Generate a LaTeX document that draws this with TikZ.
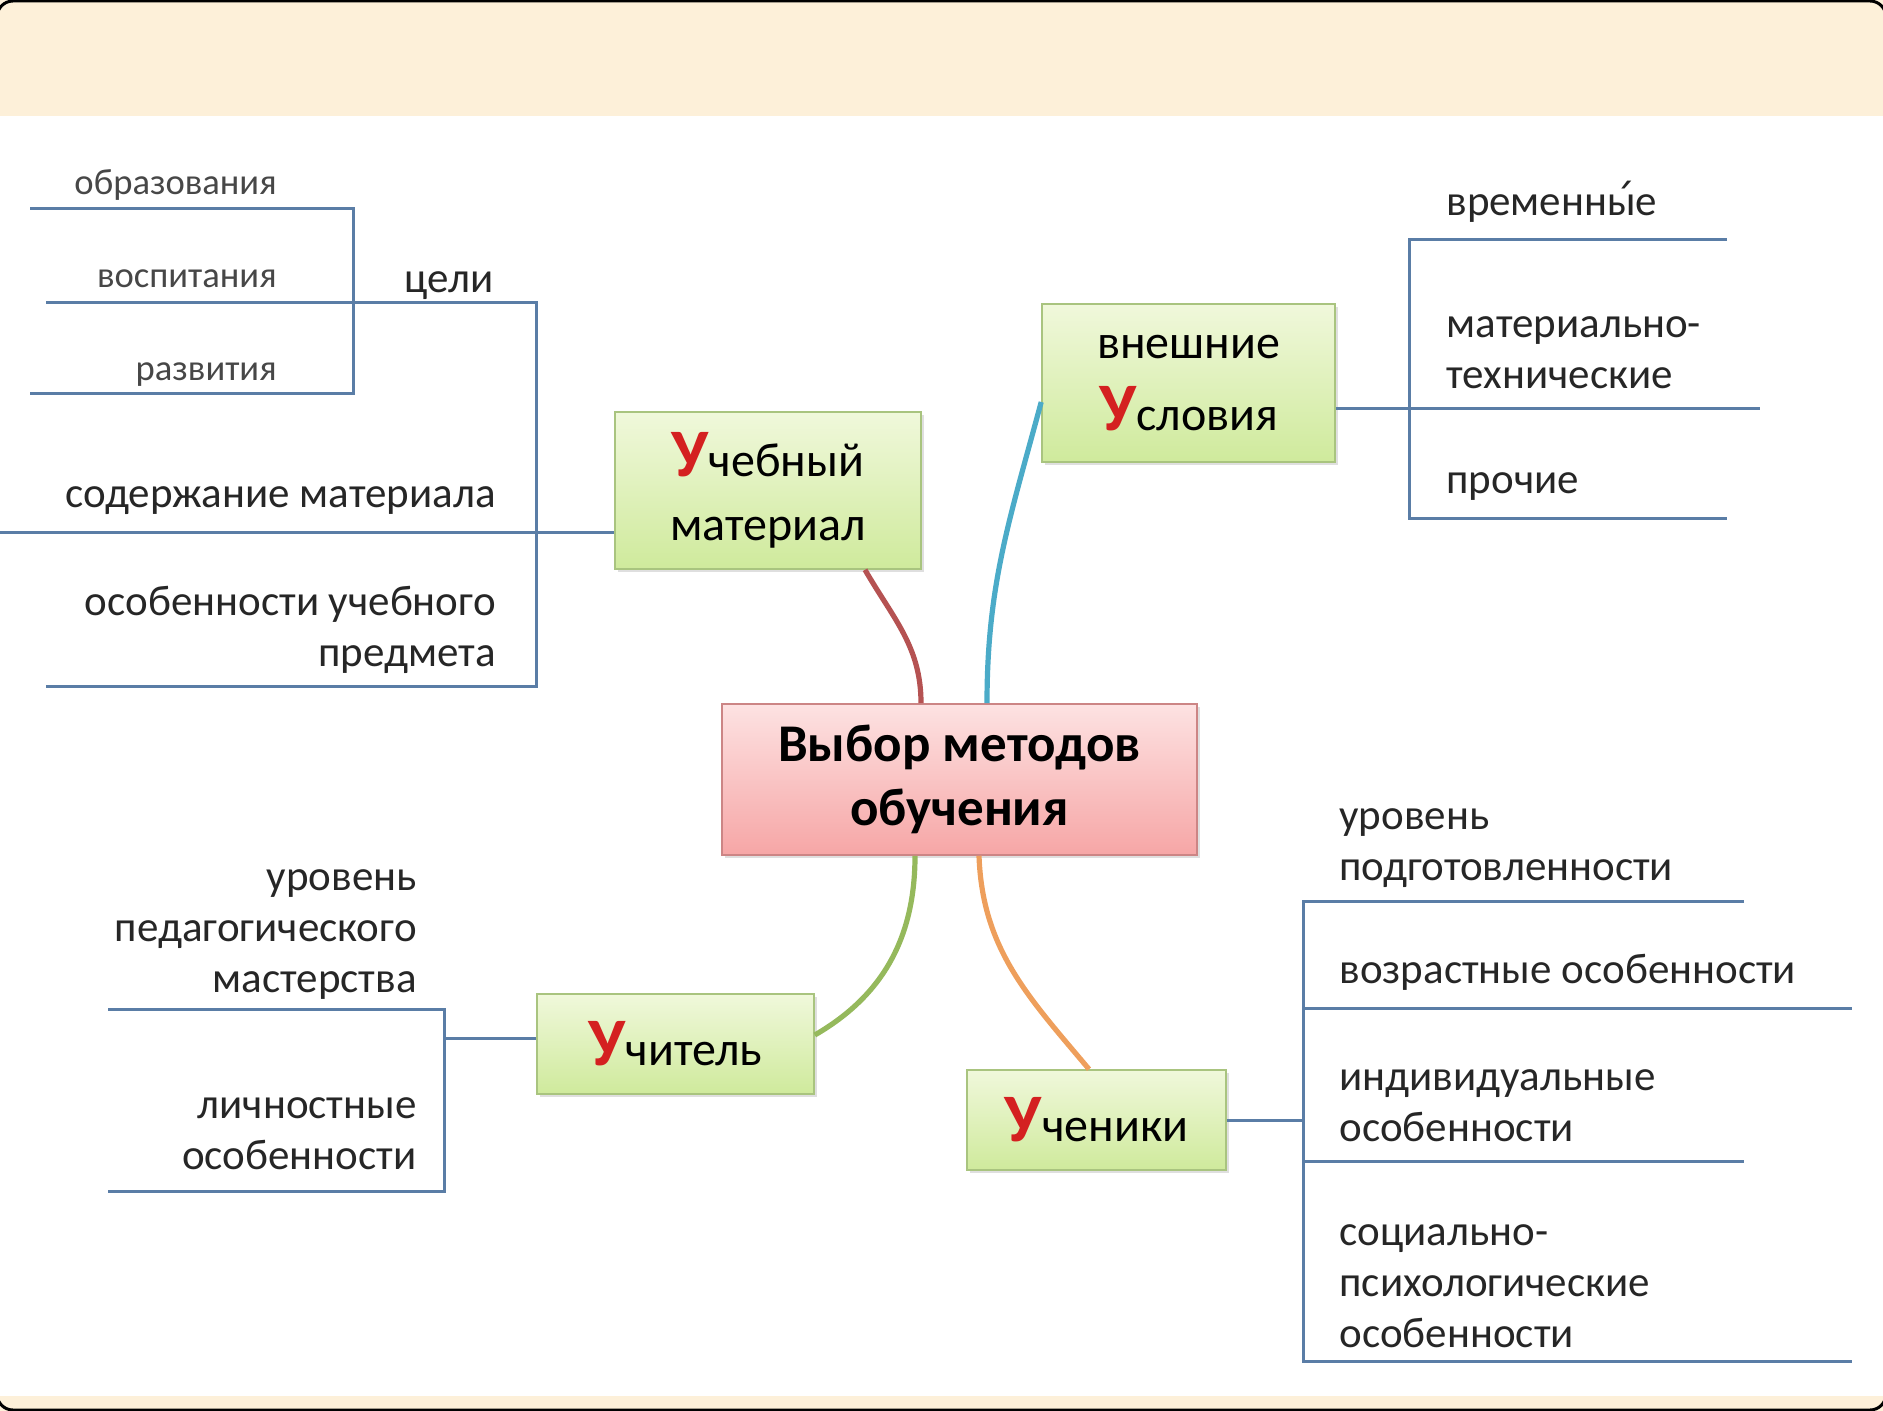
\documentclass[tikz,border=0pt]{standalone}
\usepackage{fontspec}
\setmainfont{Carlito}
\newfontfamily\accentfont{DejaVu Sans}
\usetikzlibrary{shadows}

\definecolor{paper}{HTML}{FDF0D9}
\definecolor{branchblue}{HTML}{5A7DA6}
\definecolor{greentop}{HTML}{F0F8DB}
\definecolor{greenbot}{HTML}{CFEA9C}
\definecolor{greenline}{HTML}{A9C47F}
\definecolor{pinktop}{HTML}{FDE2E2}
\definecolor{pinkbot}{HTML}{F6A6A6}
\definecolor{pinkline}{HTML}{CC8585}
\definecolor{ured}{HTML}{D42020}
\definecolor{linkred}{HTML}{B55252}
\definecolor{linkblue}{HTML}{4BABC8}
\definecolor{linkgreen}{HTML}{95B95C}
\definecolor{linkorange}{HTML}{EE9F5C}

\newcommand{\redU}{{\fontsize{34}{34}\selectfont\bfseries\color{ured}У}}

\begin{document}
\begin{tikzpicture}[
    x=0.5pt, y=-0.5pt,
    topicbox/.style={rectangle, draw=greenline, line width=0.8pt, top color=greentop, bottom color=greenbot, align=center, font=\fontsize{24}{32}\selectfont, drop shadow={opacity=0.25, shadow xshift=1.5pt, shadow yshift=-1.5pt}},
    rootbox/.style={rectangle, draw=pinkline, line width=0.8pt, top color=pinktop, bottom color=pinkbot, align=center, font=\fontsize{26.5}{32}\selectfont\bfseries, drop shadow={opacity=0.25, shadow xshift=1.5pt, shadow yshift=-1.5pt}},
    leaftext/.style={inner sep=0pt, font=\fontsize{21.5}{25.5}\selectfont, text=black!85},
    subtext/.style={inner sep=0pt, font=\fontsize{18.3}{22}\selectfont, text=black!72},
    branchline/.style={draw=branchblue, line width=1.5pt},
    linkline/.style={line width=2.6pt}
]
    \useasboundingbox (0,0) rectangle (1883,1411);

    % Frame
    \fill[paper] (0,0) rectangle (1883,116);
    \fill[paper] (0,1396) rectangle (1883,1411);
    \draw[line width=1.5pt, rounded corners=8pt] (-3,1) rectangle (1886,1410);

    % Root
    \node[rootbox, minimum width=237.5pt, minimum height=75.5pt] (methods) at (959.5,779.5) {Выбор методов\\обучения};

    % Topics
    \node[topicbox, minimum width=153pt, minimum height=78.5pt] (material) at (768,490.5) {\redU чебный\\материал};
    \node[topicbox, minimum width=146.5pt, minimum height=79pt] (conditions) at (1188.5,383) {внешние\\[4pt]\redU словия};
    \node[topicbox, minimum width=138.5pt, minimum height=50pt] (teacher) at (675.5,1044) {\redU читель};
    \node[topicbox, minimum width=129.5pt, minimum height=50pt] (pupils) at (1096.5,1120) {\redU ченики};

    % Curves
    \draw[linkline, linkred] ([xshift=48.5pt]material.south) to[out=-60, in=90] ([xshift=-19.25pt]methods.north);
    \draw[linkline, linkblue] ([yshift=-9.5pt]conditions.west) to[out=-105, in=90] ([xshift=13.75pt]methods.north);
    \draw[linkline, linkgreen] ([xshift=-22.25pt]methods.south) to[out=-90, in=30] ([yshift=4.5pt]teacher.east);
    \draw[linkline, linkorange] ([xshift=9.75pt]methods.south) to[out=-88, in=130] ([xshift=-3.75pt]pupils.north);

    % Material
    \node[subtext, anchor=base east] (obr) at (277,195) {образования};
    \node[subtext, anchor=base east] (vosp) at (277,288) {воспитания};
    \node[subtext, anchor=base east] (razv) at (277,381) {развития};
    \node[leaftext, anchor=base east] (goals) at (494,293) {цели};
    \node[leaftext, anchor=base east] (content) at (496,508) {содержание материала};
    \node[leaftext, anchor=base east, align=right] (subject) at (496,666) {особенности учебного\\предмета};

    \coordinate (obrL) at (30,209);
    \coordinate (obrR) at (353,209);
    \coordinate (razvL) at (30,394);
    \coordinate (razvR) at (353,394);
    \coordinate (vospL) at (46,303);
    \coordinate (goalsR) at (536,303);
    \coordinate (subjectL) at (46,686);
    \coordinate (subjectR) at (536,686);
    \coordinate (contentL) at (0,532);
    \draw[branchline] (obrL) -- (obrR) -- (razvR) -- (razvL);
    \draw[branchline] (vospL) -- (goalsR) -- (subjectR) -- (subjectL);
    \draw[branchline] (contentL) -- (contentL -| material.west);

    % Conditions
    \node[leaftext, anchor=base west] (time) at (1446,216) {временны{\accentfont\char"0301}е};
    \node[leaftext, anchor=base west, align=left] (mattech) at (1446,389) {материально-\\технические};
    \node[leaftext, anchor=base west] (other) at (1446,494) {прочие};

    \coordinate (timeL) at (1409,240);
    \coordinate (timeR) at (1727,240);
    \coordinate (otherL) at (1409,518);
    \coordinate (otherR) at (1727,518);
    \coordinate (mattechR) at (1760,409);
    \draw[branchline] (timeR) -- (timeL) -- (otherL) -- (otherR);
    \draw[branchline] (conditions.east |- mattechR) -- (mattechR);

    % Pupils
    \node[leaftext, anchor=base west, align=left] (level) at (1339,880) {уровень\\подготовленности};
    \node[leaftext, anchor=base west] (age) at (1339,983) {возрастные особенности};
    \node[leaftext, anchor=base west, align=left] (indiv) at (1339,1141) {индивидуальные\\особенности};
    \node[leaftext, anchor=base west, align=left] (social) at (1339,1347) {социально-\\психологические\\особенности};

    \coordinate (levelL) at (1303,901);
    \coordinate (levelR) at (1744,901);
    \coordinate (ageL) at (1303,1008);
    \coordinate (ageR) at (1852,1008);
    \coordinate (indivL) at (1303,1161);
    \coordinate (indivR) at (1744,1161);
    \coordinate (socialL) at (1303,1361);
    \coordinate (socialR) at (1852,1361);
    \draw[branchline] (levelR) -- (levelL) -- (socialL) -- (socialR);
    \draw[branchline] (ageL) -- (ageR);
    \draw[branchline] (indivL) -- (indivR);
    \draw[branchline] (pupils.east) -- (pupils.east -| levelL);

    % Teacher
    \node[leaftext, anchor=base east, align=right] (skill) at (417,992) {уровень\\педагогического\\мастерства};
    \node[leaftext, anchor=base east, align=right] (personal) at (417,1169) {личностные\\особенности};

    \coordinate (skillL) at (108,1009);
    \coordinate (skillR) at (444,1009);
    \coordinate (personalL) at (108,1191);
    \coordinate (personalR) at (444,1191);
    \draw[branchline] (skillL) -- (skillR) -- (personalR) -- (personalL);
    \draw[branchline] ([yshift=3pt]teacher.west) -- ([yshift=3pt]teacher.west -| skillR);

\end{tikzpicture}
\end{document}
